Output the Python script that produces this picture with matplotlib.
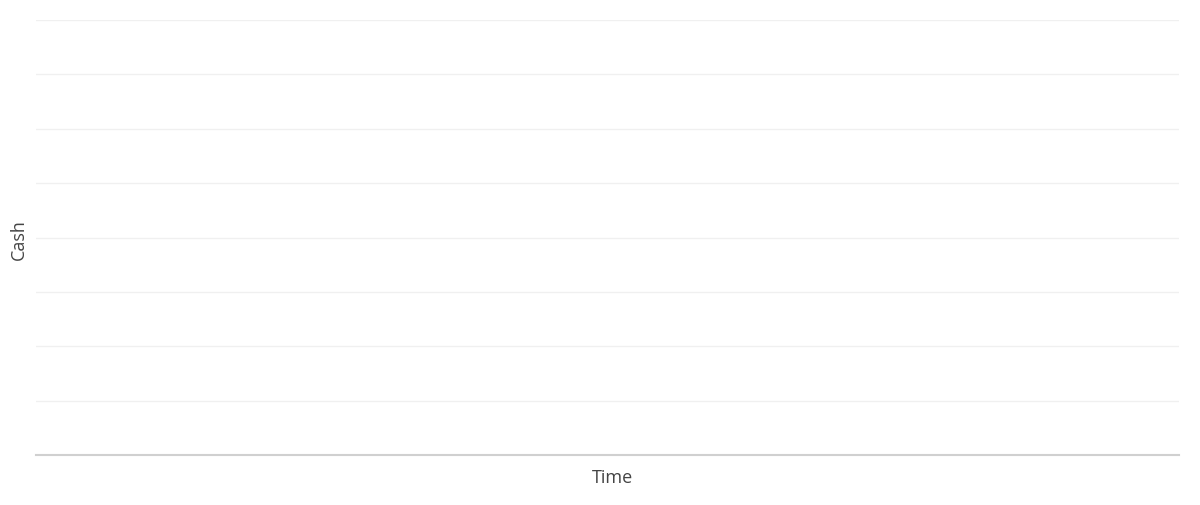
import matplotlib
matplotlib.use("Agg")
import matplotlib.pyplot as plt

x_label = "Time"
y_label = "Cash"
y_ticks = [0, 1, 2, 3, 4, 5, 6, 7, 8]

plt.rcParams['font.family'] = ['Open Sans', 'Noto Sans', 'DejaVu Sans']

fig = plt.figure(figsize=(12, 5.06), dpi=100)
left, right, top, bottom = 36, 1179, 20, 455
ax = fig.add_axes([left/1200, (506-bottom-1)/506, (right-left)/1200, (bottom-top)/506])
ax.set_xlim(0, 1)
ax.set_ylim(y_ticks[0], y_ticks[-1])
ax.set_yticks(y_ticks)
ax.set_xticks([])
ax.tick_params(axis='y', length=0, labelleft=False)
ax.grid(axis='y', color='#f0f0f0', linewidth=1)
for s in ['top', 'right', 'left']:
    ax.spines[s].set_visible(False)
ax.spines['bottom'].set_color('#d0d0d0')
ax.spines['bottom'].set_linewidth(1.5)
ax.set_axisbelow(True)
ax.set_xlabel(x_label, fontsize=13, color='#444444')
ax.xaxis.set_label_coords((613-left)/(right-left), -(477-bottom)/(bottom-top))
ax.set_ylabel(y_label, fontsize=13, color='#444444')
ax.yaxis.set_label_coords(-(36-19)/(right-left), (bottom-239)/(bottom-top))
ax.xaxis.label.set_va('center')
ax.yaxis.label.set_va('center')
fig.savefig("out.png", dpi=100)
